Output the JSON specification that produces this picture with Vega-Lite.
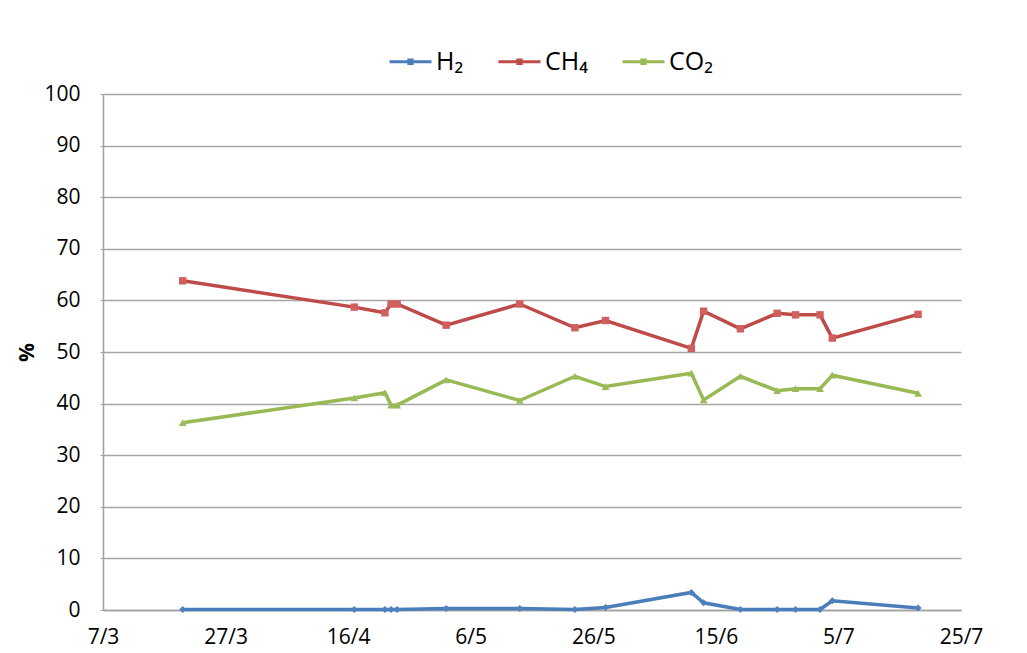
{
  "$schema": "https://vega.github.io/schema/vega-lite/v6.json",
  "width": 858,
  "height": 516,
  "autosize": {"type": "none"},
  "padding": {"left": 103, "top": 94, "right": 66, "bottom": 43},
  "background": "white",
  "config": {
    "font": "Open Sans",
    "view": {"stroke": null},
    "axis": {"labelFont": "Open Sans", "labelColor": "#000000", "titleColor": "#000000"}
  },
  "data": {
    "values": [
      {"date": "2011-03-20", "series": "H₂", "value": 0.1},
      {"date": "2011-04-17", "series": "H₂", "value": 0.1},
      {"date": "2011-04-22", "series": "H₂", "value": 0.1},
      {"date": "2011-04-23", "series": "H₂", "value": 0.1},
      {"date": "2011-04-24", "series": "H₂", "value": 0.1},
      {"date": "2011-05-02", "series": "H₂", "value": 0.3},
      {"date": "2011-05-14", "series": "H₂", "value": 0.3},
      {"date": "2011-05-23", "series": "H₂", "value": 0.1},
      {"date": "2011-05-28", "series": "H₂", "value": 0.5},
      {"date": "2011-06-11", "series": "H₂", "value": 3.4},
      {"date": "2011-06-13", "series": "H₂", "value": 1.4},
      {"date": "2011-06-19", "series": "H₂", "value": 0.1},
      {"date": "2011-06-25", "series": "H₂", "value": 0.1},
      {"date": "2011-06-28", "series": "H₂", "value": 0.1},
      {"date": "2011-07-02", "series": "H₂", "value": 0.1},
      {"date": "2011-07-04", "series": "H₂", "value": 1.8},
      {"date": "2011-07-18", "series": "H₂", "value": 0.4},
      {"date": "2011-03-20", "series": "CH₄", "value": 63.8},
      {"date": "2011-04-17", "series": "CH₄", "value": 58.7},
      {"date": "2011-04-22", "series": "CH₄", "value": 57.6},
      {"date": "2011-04-23", "series": "CH₄", "value": 59.3},
      {"date": "2011-04-24", "series": "CH₄", "value": 59.3},
      {"date": "2011-05-02", "series": "CH₄", "value": 55.2},
      {"date": "2011-05-14", "series": "CH₄", "value": 59.3},
      {"date": "2011-05-23", "series": "CH₄", "value": 54.7},
      {"date": "2011-05-28", "series": "CH₄", "value": 56.1},
      {"date": "2011-06-11", "series": "CH₄", "value": 50.7},
      {"date": "2011-06-13", "series": "CH₄", "value": 57.9},
      {"date": "2011-06-19", "series": "CH₄", "value": 54.5},
      {"date": "2011-06-25", "series": "CH₄", "value": 57.5},
      {"date": "2011-06-28", "series": "CH₄", "value": 57.2},
      {"date": "2011-07-02", "series": "CH₄", "value": 57.2},
      {"date": "2011-07-04", "series": "CH₄", "value": 52.7},
      {"date": "2011-07-18", "series": "CH₄", "value": 57.3},
      {"date": "2011-03-20", "series": "CO₂", "value": 36.3},
      {"date": "2011-04-17", "series": "CO₂", "value": 41.1},
      {"date": "2011-04-22", "series": "CO₂", "value": 42.1},
      {"date": "2011-04-23", "series": "CO₂", "value": 39.7},
      {"date": "2011-04-24", "series": "CO₂", "value": 39.7},
      {"date": "2011-05-02", "series": "CO₂", "value": 44.6},
      {"date": "2011-05-14", "series": "CO₂", "value": 40.6},
      {"date": "2011-05-23", "series": "CO₂", "value": 45.3},
      {"date": "2011-05-28", "series": "CO₂", "value": 43.3},
      {"date": "2011-06-11", "series": "CO₂", "value": 45.9},
      {"date": "2011-06-13", "series": "CO₂", "value": 40.7},
      {"date": "2011-06-19", "series": "CO₂", "value": 45.3},
      {"date": "2011-06-25", "series": "CO₂", "value": 42.5},
      {"date": "2011-06-28", "series": "CO₂", "value": 42.9},
      {"date": "2011-07-02", "series": "CO₂", "value": 42.9},
      {"date": "2011-07-04", "series": "CO₂", "value": 45.5},
      {"date": "2011-07-18", "series": "CO₂", "value": 42.0}
    ]
  },
  "encoding": {
    "x": {
      "field": "date",
      "type": "temporal",
      "scale": {
        "type": "utc",
        "domain": [
          {"year": 2011, "month": 3, "date": 7, "utc": true},
          {"year": 2011, "month": 7, "date": 25, "utc": true}
        ]
      },
      "axis": {
        "title": null,
        "labelExpr": "utcFormat(datum.value, '%-d/%-m')",
        "values": [
          {"year": 2011, "month": 3, "date": 7, "utc": true},
          {"year": 2011, "month": 3, "date": 27, "utc": true},
          {"year": 2011, "month": 4, "date": 16, "utc": true},
          {"year": 2011, "month": 5, "date": 6, "utc": true},
          {"year": 2011, "month": 5, "date": 26, "utc": true},
          {"year": 2011, "month": 6, "date": 15, "utc": true},
          {"year": 2011, "month": 7, "date": 5, "utc": true},
          {"year": 2011, "month": 7, "date": 25, "utc": true}
        ],
        "grid": false,
        "ticks": false,
        "domainColor": "#a0a0a0",
        "domainWidth": 1.5,
        "labelFontSize": 21,
        "labelPadding": 16,
        "labelFlush": false,
        "labelOverlap": false
      }
    },
    "y": {
      "field": "value",
      "type": "quantitative",
      "scale": {"domain": [0, 100], "nice": false},
      "axis": {
        "title": "%",
        "titleFontSize": 21,
        "titleFontWeight": "bold",
        "titlePadding": 6,
        "values": [0, 10, 20, 30, 40, 50, 60, 70, 80, 90, 100],
        "grid": true,
        "gridColor": "#a6a6a6",
        "gridWidth": 1.5,
        "domainColor": "#a0a0a0",
        "domainWidth": 1.5,
        "tickColor": "#a0a0a0",
        "tickSize": 3,
        "labelFontSize": 21,
        "labelPadding": 20
      }
    }
  },
  "layer": [
    {
      "mark": {"type": "line", "strokeWidth": 3.5},
      "encoding": {
        "color": {
          "field": "series",
          "type": "nominal",
          "scale": {"domain": ["H₂", "CH₄", "CO₂"], "range": ["#4A7EBB", "#BE4B48", "#98B954"]},
          "legend": {
            "title": null,
            "orient": "none",
            "legendX": 285,
            "legendY": -55,
            "direction": "horizontal",
            "symbolType": "M-1,0H1M-0.08,-0.08H0.08V0.08H-0.08Z",
            "symbolSize": 1764,
            "symbolStrokeWidth": 3,
            "labelFontSize": 25,
            "labelFont": "Open Sans",
            "labelColor": "#000000",
            "labelOffset": 3,
            "columnPadding": 28
          }
        }
      }
    },
    {
      "transform": [{"filter": "datum.series === 'H₂'"}],
      "mark": {"type": "point", "filled": true, "opacity": 1, "size": 50, "shape": "diamond", "color": "#4F81BD"}
    },
    {
      "transform": [{"filter": "datum.series === 'CH₄'"}],
      "mark": {"type": "point", "filled": true, "opacity": 1, "size": 55, "shape": "square", "color": "#D0605D"}
    },
    {
      "transform": [{"filter": "datum.series === 'CO₂'"}],
      "mark": {"type": "point", "filled": true, "opacity": 1, "size": 60, "shape": "triangle-up", "color": "#9BBB59"}
    }
  ]
}
